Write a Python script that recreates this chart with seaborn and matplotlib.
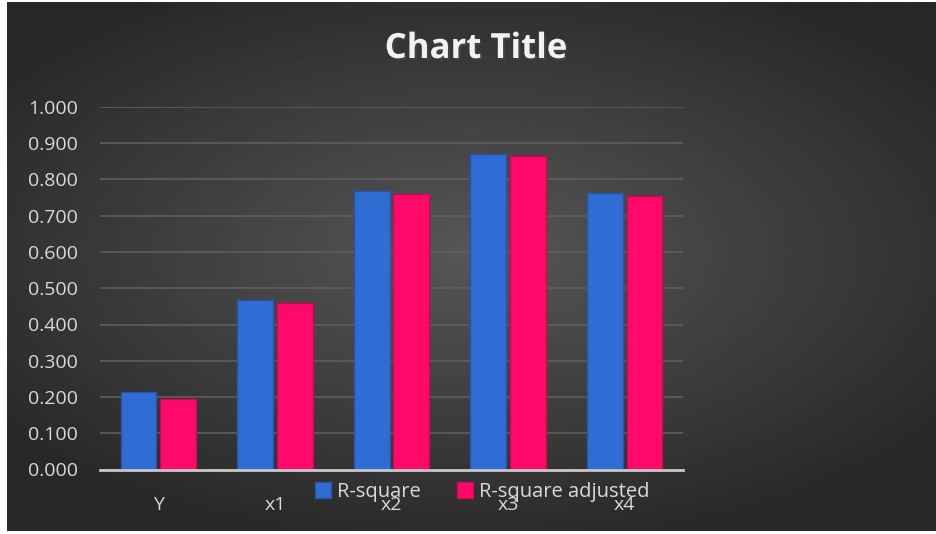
import numpy as np
import pandas as pd
import matplotlib.pyplot as plt
import matplotlib.patheffects as pe
import seaborn as sns

# values
categories = ['Y', 'x1', 'x2', 'x3', 'x4']
r_square = [0.213, 0.467, 0.767, 0.869, 0.762]
r_square_adj = [0.195, 0.458, 0.760, 0.865, 0.754]
series_names = ['R-square', 'R-square adjusted']
y_ticks = [0.0, 0.1, 0.2, 0.3, 0.4, 0.5, 0.6, 0.7, 0.8, 0.9, 1.0]

df = pd.DataFrame({
    'category': categories * 2,
    'value': r_square + r_square_adj,
    'series': [series_names[0]] * len(categories) + [series_names[1]] * len(categories),
})

sns.set_theme(style='dark')
plt.rcParams['font.family'] = ['Open Sans', 'DejaVu Sans']

fig = plt.figure(figsize=(9.36, 5.34), dpi=100, facecolor='white')

# dark chart area with a soft radial gradient
bg = fig.add_axes([7 / 936, 3 / 534, 929 / 936, 529 / 534], zorder=-10)
gx, gy = np.meshgrid(np.linspace(-1, 1, 400), np.linspace(-1, 1, 240))
r = np.sqrt((gx * 0.9) ** 2 + ((gy + 0.05) * 1.0) ** 2)
shade = np.clip(0.34 - 0.16 * r, 0.16, 0.34)
bg.imshow(shade, cmap='gray', vmin=0, vmax=1, aspect='auto', extent=[0, 1, 0, 1])
bg.set_axis_off()

ax = fig.add_axes([100 / 936, 1 - 469.5 / 534, 583 / 936, 362.5 / 534])
ax.patch.set_alpha(0)

palette = {series_names[0]: '#2f6cd3', series_names[1]: '#ff0a6a'}
sns.barplot(data=df, x='category', y='value', hue='series', palette=palette,
            width=0.68, gap=0.1, saturation=1, ax=ax, zorder=3,
            edgecolor='none', legend=True)

# slightly darker edges on the bars
for bar in ax.patches:
    fc = bar.get_facecolor()
    bar.set_edgecolor(tuple(c * 0.8 for c in fc[:3]))
    bar.set_linewidth(1.0)

ax.set_ylim(0, 1.0)
ax.set_xlim(-0.5, 4.5)
ax.set_yticks(y_ticks)
ax.set_yticklabels([f'{t:.3f}' for t in y_ticks])
ax.grid(axis='y', color='#5e5e5e', linewidth=1.2, zorder=0)
ax.grid(axis='x', visible=False)
for side in ['top', 'right', 'left']:
    ax.spines[side].set_visible(False)
ax.spines['bottom'].set_color('#c8c8c8')
ax.spines['bottom'].set_linewidth(2)
ax.spines['bottom'].set_zorder(5)
ax.tick_params(axis='y', colors='#d9d9d9', labelsize=14, length=0, pad=16)
ax.tick_params(axis='x', colors='#d9d9d9', labelsize=14, length=0, pad=19)
ax.set_xlabel('')
ax.set_ylabel('')

handles, labels = ax.get_legend_handles_labels()
ax.get_legend().remove()
fig.legend(handles, labels, loc='center', bbox_to_anchor=(482 / 936, 1 - 492 / 534),
           ncol=2, frameon=False, fontsize=14.5, labelcolor='#d9d9d9',
           handlelength=0.8, handleheight=0.8, handletextpad=0.3, columnspacing=1.8)

fig.text(476 / 936, 1 - 49 / 534, 'Chart Title', ha='center', va='center',
         fontsize=25, fontweight='bold', color='#f2f2f2',
         path_effects=[pe.withSimplePatchShadow(offset=(1.5, -1.5), alpha=0.6)])

fig.savefig('out.png', dpi=100, facecolor=fig.get_facecolor())
